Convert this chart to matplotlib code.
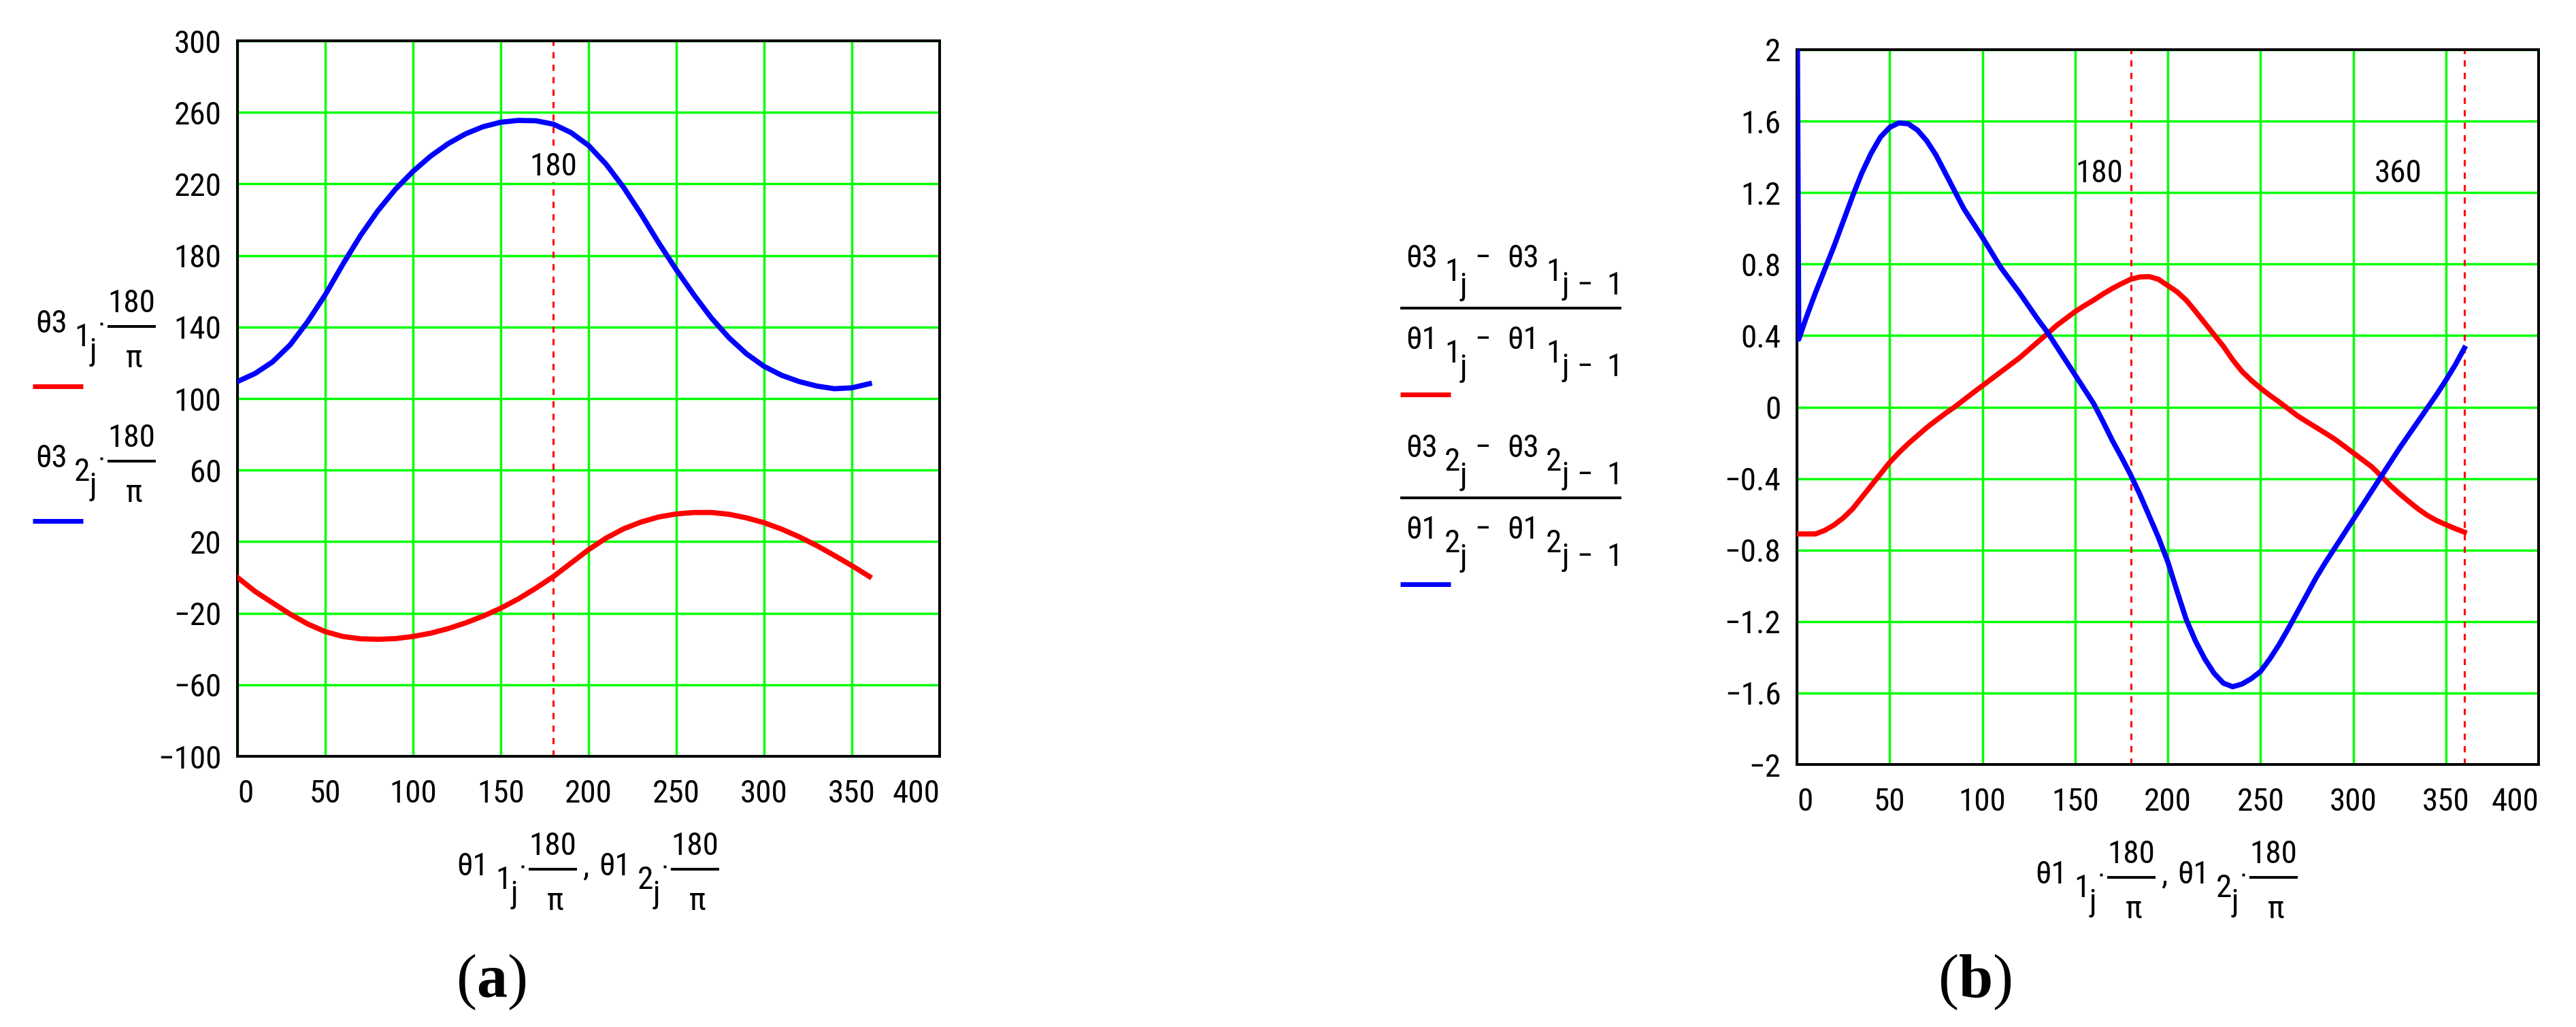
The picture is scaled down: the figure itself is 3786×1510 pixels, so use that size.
import matplotlib
matplotlib.use("Agg")
import matplotlib.pyplot as plt
from matplotlib.lines import Line2D
from matplotlib import font_manager as fm

# ---------------- data ----------------
x_ticks = [0, 50, 100, 150, 200, 250, 300, 350, 400]
x_tick_labels = ["0", "50", "100", "150", "200", "250", "300", "350", "400"]

y_ticks_a = [-100, -60, -20, 20, 60, 100, 140, 180, 220, 260, 300]
y_tick_labels_a = ["\u2212100", "\u221260", "\u221220", "20", "60", "100",
                   "140", "180", "220", "260", "300"]
y_ticks_b = [-2, -1.6, -1.2, -0.8, -0.4, 0, 0.4, 0.8, 1.2, 1.6, 2]
y_tick_labels_b = ["\u22122", "\u22121.6", "\u22121.2", "\u22120.8", "\u22120.4", "0",
                   "0.4", "0.8", "1.2", "1.6", "2"]

# panel (a): crank angle (deg) and output angles (deg)
theta1_a = [0, 10, 20, 30, 40, 50, 60, 70, 80, 90, 100, 110, 120, 130, 140, 150,
            160, 170, 180, 190, 200, 210, 220, 230, 240, 250, 260, 270, 280, 290,
            300, 310, 320, 330, 340, 350, 360]
theta3_1_a = [0.0, -7.8, -14.2, -20.5, -26.0, -30.3, -33.0, -34.3, -34.6, -34.2,
              -33.0, -31.2, -28.6, -25.4, -21.6, -17.2, -12.0, -6.0, 0.5, 8.0,
              15.5, 22.0, 27.2, 31.0, 33.8, 35.5, 36.3, 36.3, 35.3, 33.3,
              30.6, 27.0, 22.7, 17.8, 12.3, 6.6, 0.5]
theta3_2_a = [109.5, 114.0, 120.5, 130.0, 143.0, 158.0, 175.0, 191.0, 205.0, 217.0,
              227.0, 235.5, 242.5, 248.0, 252.0, 254.5, 255.5, 255.3, 253.4, 248.7,
              241.5, 231.0, 218.0, 203.0, 187.0, 172.0, 158.0, 145.0, 134.0, 125.0,
              118.0, 113.0, 109.5, 107.0, 105.5, 106.0, 108.3]

# panel (b): crank angle (deg) and finite-difference ratios
theta1_b = [0, 1, 5, 10, 15, 20, 25, 30, 35, 40, 45, 50, 55, 60, 65, 70, 75, 80,
            85, 90, 95, 100, 105, 110, 115, 120, 125, 130, 135, 140, 145, 150, 155,
            160, 165, 170, 175, 180, 185, 190, 195, 200, 205, 210, 215, 220, 225,
            230, 235, 240, 245, 250, 255, 260, 265, 270, 275, 280, 285, 290, 295,
            300, 305, 310, 315, 320, 325, 330, 335, 340, 345, 350, 355, 360]
ratio_1_b = [-0.71, -0.71, -0.71, -0.71, -0.69, -0.66, -0.62, -0.57, -0.505, -0.44,
             -0.375, -0.31, -0.255, -0.205, -0.16, -0.115, -0.075, -0.036, 0.0, 0.04,
             0.08, 0.119, 0.158, 0.197, 0.236, 0.275, 0.32, 0.365, 0.41, 0.456,
             0.495, 0.534, 0.567, 0.598, 0.632, 0.663, 0.69, 0.715, 0.728, 0.73,
             0.715, 0.68, 0.645, 0.598, 0.535, 0.47, 0.405, 0.34, 0.265, 0.20,
             0.15, 0.106, 0.066, 0.029, -0.01, -0.049, -0.082, -0.114, -0.146, -0.179,
             -0.217, -0.256, -0.295, -0.334, -0.385, -0.438, -0.485, -0.528, -0.57,
             -0.606, -0.635, -0.658, -0.68, -0.70]
ratio_2_b = [2.6, 0.38, 0.50, 0.64, 0.77, 0.90, 1.04, 1.18, 1.31, 1.42, 1.51, 1.565,
             1.59, 1.585, 1.55, 1.49, 1.41, 1.31, 1.21, 1.11, 1.03, 0.95, 0.865, 0.78,
             0.71, 0.64, 0.565, 0.49, 0.42, 0.34, 0.26, 0.18, 0.10, 0.02, -0.08,
             -0.185, -0.28, -0.38, -0.49, -0.61, -0.73, -0.865, -1.03, -1.19, -1.31,
             -1.41, -1.49, -1.545, -1.565, -1.55, -1.52, -1.48, -1.41, -1.33, -1.24,
             -1.145, -1.05, -0.955, -0.87, -0.79, -0.71, -0.63, -0.55, -0.47, -0.39,
             -0.31, -0.23, -0.155, -0.08, -0.005, 0.07, 0.15, 0.235, 0.33]

markers_a = [180]
markers_b = [180, 360]
marker_labels_b = ["180", "360"]

# ---------------- fonts ----------------
def find_family():
    cands = [("Liberation Sans Narrow", "normal"), ("Noto Sans Condensed", "normal"),
             ("Roboto Condensed", "normal"), ("Open Sans Condensed", "normal"),
             ("DejaVu Sans Condensed", "normal")]
    for fam, st in cands:
        try:
            fm.findfont(fm.FontProperties(family=fam, stretch=st),
                        fallback_to_default=False)
            return fam
        except Exception:
            pass
    return "Liberation Sans"


SANS = find_family()
FAM = [SANS, "DejaVu Sans"]
plt.rcParams["font.family"] = FAM
plt.rcParams["axes.unicode_minus"] = True
plt.rcParams["mathtext.fontset"] = "custom"
plt.rcParams["mathtext.rm"] = "Liberation Serif"
plt.rcParams["mathtext.bf"] = "Liberation Serif:bold"

FS = 34
RED = "#FF0000"
BLUE = "#0000FF"
GREEN = "#00FF00"

W, H = 3786, 1510
fig = plt.figure(figsize=(W / 100, H / 100), dpi=100)
fig.patch.set_facecolor("white")

ax_a = fig.add_axes([349 / W, 1 - 1112 / H, (1381 - 349) / W, (1112 - 60) / H])
ax_b = fig.add_axes([2641 / W, 1 - 1124 / H, (3731 - 2641) / W, (1124 - 73) / H])


def style(ax, yt, ytl, ylim):
    ax.set_xlim(0, 400)
    ax.set_ylim(*ylim)
    ax.set_xticks(x_ticks, x_tick_labels)
    ax.set_yticks(yt, ytl)
    ax.grid(True, color=GREEN, lw=2.5)
    ax.set_axisbelow(True)
    for s in ax.spines.values():
        s.set_linewidth(2.9)
        s.set_color("black")
    ax.tick_params(axis="both", length=0, labelsize=FS)
    ax.tick_params(axis="x", pad=23.5)
    ax.tick_params(axis="y", pad=17)
    labs = ax.get_xticklabels()
    labs[0].set_horizontalalignment("left")
    labs[-1].set_horizontalalignment("right")


style(ax_a, y_ticks_a, y_tick_labels_a, (-100, 300))
style(ax_b, y_ticks_b, y_tick_labels_b, (-2, 2))

# curves
LW = 5.5
ax_a.plot(theta1_a, theta3_1_a, color=RED, lw=LW, zorder=3)
ax_a.plot(theta1_a, theta3_2_a, color=BLUE, lw=LW, zorder=3)
ax_b.plot(theta1_b, ratio_1_b, color=RED, lw=LW, zorder=3)
ax_b.plot(theta1_b, ratio_2_b, color=BLUE, lw=LW, zorder=3)

# marker lines
for m in markers_a:
    ax_a.axvline(m, color=RED, lw=2.2, dashes=(3, 3), zorder=2)
    ax_a.text(m, 224.7, str(m), ha="center", va="baseline", fontsize=FS, zorder=4,
              bbox=dict(fc="white", ec="none", pad=1))
for m in markers_b:
    ax_b.axvline(m, color=RED, lw=2.2, dashes=(3, 3), zorder=2)
ax_b.text(175.8, 1.258, marker_labels_b[0], ha="right", va="baseline", fontsize=FS)
ax_b.text(336.9, 1.258, marker_labels_b[1], ha="right", va="baseline", fontsize=FS)


# ---------------- Mathcad-style expressions ----------------
def put(px, py, s, ha="left", size=FS):
    fig.text(px / W, 1 - py / H, s, ha=ha, va="baseline", fontsize=size, family=FAM)


def hline(x1, x2, py, lw=2.9, color="black"):
    fig.add_artist(Line2D([x1 / W, x2 / W], [1 - py / H, 1 - py / H], color=color,
                          lw=lw, solid_capstyle="butt"))


def dot(px, py):
    fig.add_artist(Line2D([px / W], [1 - py / H], marker="s", ms=2.4,
                          color="black", mec="none", ls="none"))


def idx_term(x0, b, name, idx):
    put(x0, b, name)
    put(x0 + 57, b + 20, idx)
    put(x0 + 80, b + 41, "j")


def scaled_term(x0, b, name, idx):
    idx_term(x0, b, name, idx)
    dot(x0 + 97, b - 13)
    hline(x0 + 106, x0 + 177, b - 9)
    put(x0 + 141, b - 30, "180", ha="center")
    put(x0 + 145, b + 51, "\u03c0", ha="center")


def diff_row(x0, b, name, idx):
    idx_term(x0, b, name, idx)
    put(x0 + 113, b, "\u2212", ha="center")
    put(x0 + 149, b, name)
    put(x0 + 206, b + 20, idx)
    put(x0 + 230, b + 40, "j")
    put(x0 + 263, b + 40, "\u2212", ha="center")
    put(x0 + 295, b + 40, "1")


def diff_frac(x0, bar, idx):
    diff_row(x0, bar - 60, "\u03b83", idx)
    hline(x0 - 8, x0 + 317, bar)
    diff_row(x0, bar + 60, "\u03b81", idx)


# legend (a)
scaled_term(52, 489, "\u03b83", "1")
hline(48, 122, 568, lw=5, color=RED)
scaled_term(52, 687, "\u03b83", "2")
hline(48, 122, 766, lw=5, color=BLUE)

# legend (b)
diff_frac(2066, 453, "1")
hline(2058, 2132, 580, lw=5, color=RED)
diff_frac(2066, 732, "2")
hline(2058, 2132, 859, lw=5, color=BLUE)

# x axis labels
for x0, b in [(671, 1287), (2991, 1299)]:
    scaled_term(x0, b, "\u03b81", "1")
    put(x0 + 185, b, ",")
    scaled_term(x0 + 209, b, "\u03b81", "2")

# panel tags
fig.text(722 / W, 1 - 1466 / H, r"$(\mathbf{a})$", ha="center", va="baseline", fontsize=65)
fig.text(2902 / W, 1 - 1466 / H, r"$(\mathbf{b})$", ha="center", va="baseline", fontsize=65)

fig.savefig("out.png", dpi=100, facecolor="white")
